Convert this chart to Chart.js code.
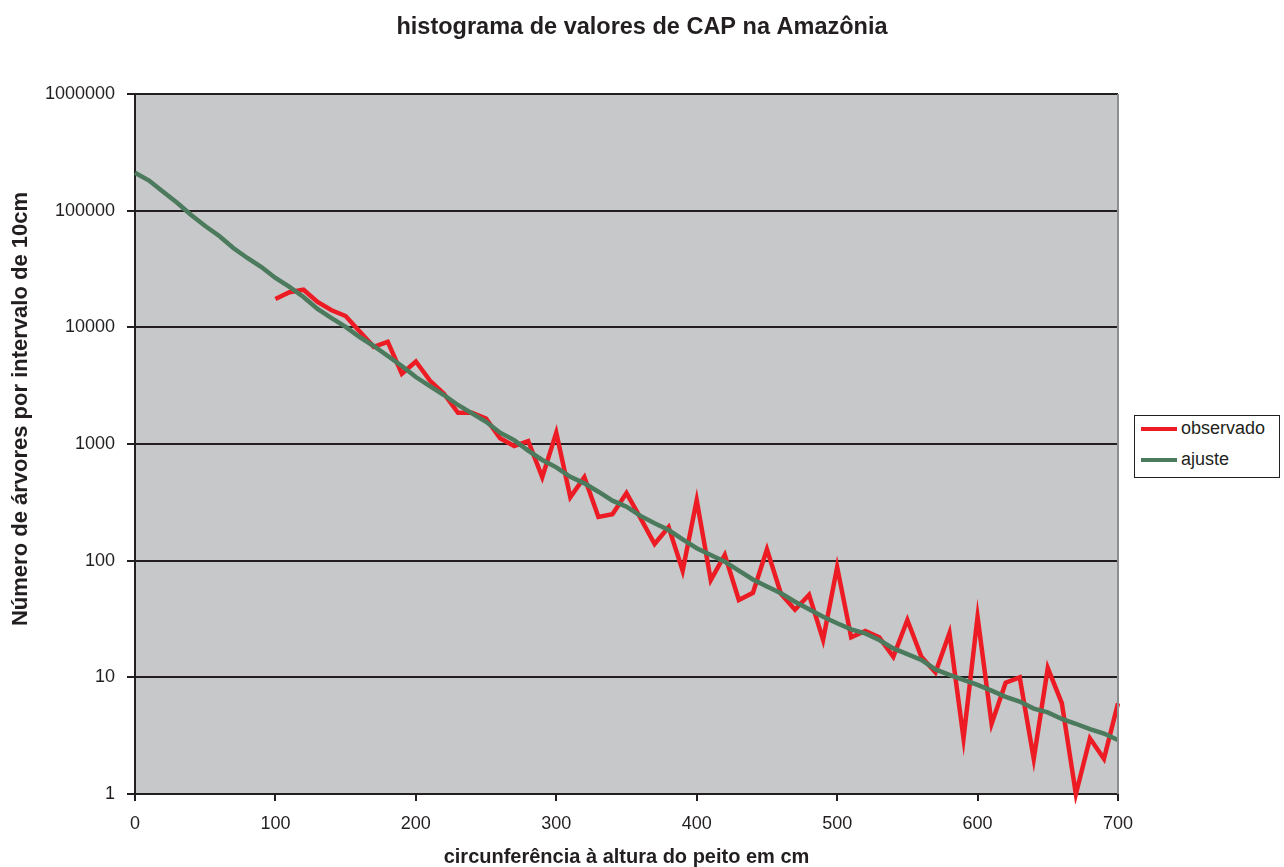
<!DOCTYPE html>
<html>
<head>
<meta charset="utf-8">
<title>histograma de valores de CAP na Amazônia</title>
<script src="https://cdn.jsdelivr.net/npm/chart.js@4/dist/chart.umd.min.js"></script>
<style>
  body { margin: 0; background: #fff; }
  #wrap { position: relative; width: 1284px; height: 867px; }
  #legend {
    position: absolute; left: 1134px; top: 415px; width: 144px; height: 61px;
    border: 1px solid #231f20; background: #fff;
    font: 18px "Liberation Sans", Arial, sans-serif; color: #231f20;
  }
  .item { position: absolute; left: 6px; height: 22px; line-height: 22px; }
  .item i { display: inline-block; width: 36px; height: 4px; vertical-align: middle; margin-right: 4px; }
</style>
</head>
<body>
<div id="wrap">
  <canvas id="chart" width="1284" height="867"></canvas>
  <div id="legend"></div>
</div>
<script>
// circunferência (cm), classes de 10 cm
const cap = [0, 10, 20, 30, 40, 50, 60, 70, 80, 90,
  100, 110, 120, 130, 140, 150, 160, 170, 180, 190,
  200, 210, 220, 230, 240, 250, 260, 270, 280, 290,
  300, 310, 320, 330, 340, 350, 360, 370, 380, 390,
  400, 410, 420, 430, 440, 450, 460, 470, 480, 490,
  500, 510, 520, 530, 540, 550, 560, 570, 580, 590,
  600, 610, 620, 630, 640, 650, 660, 670, 680, 690, 700];

const observado = [null, null, null, null, null, null, null, null, null, null,
  17500, 20000, 21000, 16500, 14000, 12500, 9200, 6800, 7500, 4000,
  5100, 3500, 2700, 1850, 1850, 1650, 1120, 960, 1060, 520,
  1250, 350, 520, 237, 250, 380, 232, 139, 194, 82,
  330, 68, 112, 46, 53, 125, 52, 38, 51, 21,
  88, 22, 25, 22, 15, 31, 15, 11, 24, 3,
  33, 4, 9, 10, 2, 12, 6, 1, 3, 2, 6];

const ajuste = [211000, 181000, 145000, 117000, 91800, 73800, 60700, 47900, 39300, 32900,
  26500, 22200, 18200, 14400, 12000, 10100, 8260, 6920, 5680, 4660,
  3750, 3140, 2630, 2160, 1830, 1550, 1250, 1080, 877, 730,
  631, 524, 460, 390, 327, 290, 242, 209, 183, 152,
  128, 112, 98, 82, 69, 60, 52.5, 44.5, 38.3, 33.1,
  29.1, 25.8, 23.8, 20.9, 17.7, 15.8, 14.1, 11.7, 10.5, 9.5,
  8.6, 7.7, 6.8, 6.2, 5.4, 5.0, 4.4, 4.0, 3.6, 3.3, 2.9];

const yTicks = [1, 10, 100, 1000, 10000, 100000, 1000000];
const xTicks = [0, 100, 200, 300, 400, 500, 600, 700];

const seriesNames = ["observado", "ajuste"];
const seriesColors = ["#ed1c24", "#4b7a5d"];

const FONT = '"Liberation Sans", Arial, sans-serif';
const INK = "#231f20";

const plotBg = {
  id: "plotBg",
  beforeDraw(chart) {
    const a = chart.chartArea, ctx = chart.ctx;
    ctx.save();
    ctx.fillStyle = "#c7c8ca";
    ctx.fillRect(a.left, a.top, a.right - a.left, a.bottom - a.top);
    ctx.restore();
  },
  afterDraw(chart) {
    const a = chart.chartArea, ctx = chart.ctx;
    ctx.save();
    // borda direita cinza
    ctx.strokeStyle = "#8d8e90";
    ctx.lineWidth = 2;
    ctx.beginPath();
    ctx.moveTo(a.right, a.top);
    ctx.lineTo(a.right, a.bottom);
    ctx.stroke();
    ctx.fillStyle = INK;
    ctx.textAlign = "center";
    ctx.textBaseline = "middle";
    // título do gráfico, centrado na figura inteira
    ctx.font = "bold 23.5px " + FONT;
    ctx.fillText("histograma de valores de CAP na Amazônia", chart.width / 2, 28);
    // título do eixo y
    ctx.font = "bold 22px " + FONT;
    ctx.translate(21, 409);
    ctx.rotate(-Math.PI / 2);
    ctx.fillText("Número de árvores por intervalo de 10cm", 0, 0);
    ctx.restore();
  }
};

new Chart(document.getElementById("chart"), {
  type: "line",
  data: {
    datasets: [
      {
        label: seriesNames[0],
        data: cap.map((c, i) => ({ x: c, y: observado[i] })),
        borderColor: seriesColors[0],
        borderWidth: 4.5,
        pointRadius: 0,
        tension: 0,
        clip: 10,
        order: 1
      },
      {
        label: seriesNames[1],
        data: cap.map((c, i) => ({ x: c, y: ajuste[i] })),
        borderColor: seriesColors[1],
        borderWidth: 4.5,
        pointRadius: 0,
        tension: 0,
        clip: 10,
        order: 0
      }
    ]
  },
  options: {
    responsive: false,
    animation: false,
    devicePixelRatio: 1,
    layout: { padding: { left: 0, right: 166, top: 94, bottom: 0 } },
    plugins: {
      legend: { display: false },
      tooltip: { enabled: false },
      title: { display: false }
    },
    scales: {
      x: {
        type: "linear",
        min: 0,
        max: 700,
        afterBuildTicks: (s) => { s.ticks = xTicks.map(v => ({ value: v })); },
        afterFit: (s) => { s.height = 73; },
        ticks: {
          color: INK,
          padding: 12,
          maxRotation: 0,
          font: { family: FONT, size: 18 },
          callback: (v) => String(v)
        },
        grid: {
          drawOnChartArea: false,
          drawTicks: true,
          tickLength: 7,
          color: INK,
          lineWidth: 2
        },
        border: { color: INK, width: 2 },
        title: {
          display: true,
          text: "circunferência à altura do peito em cm",
          color: INK,
          font: { family: FONT, size: 20, weight: "bold", lineHeight: 1 },
          padding: { top: 0, bottom: 0 }
        }
      },
      y: {
        type: "logarithmic",
        min: 1,
        max: 1000000,
        afterBuildTicks: (s) => { s.ticks = yTicks.map(v => ({ value: v })); },
        afterFit: (s) => { s.width = 135; },
        ticks: {
          color: INK,
          padding: 12,
          font: { family: FONT, size: 18 },
          callback: (v) => String(v)
        },
        grid: {
          color: INK,
          lineWidth: 2,
          tickLength: 8
        },
        border: { color: INK, width: 2 }
      }
    }
  },
  plugins: [plotBg]
});

// legenda
const legend = document.getElementById("legend");
seriesNames.forEach((name, i) => {
  const row = document.createElement("div");
  row.className = "item";
  row.style.top = (i === 0 ? 1 : 32) + "px";
  row.innerHTML = '<i style="background:' + seriesColors[i] + '"></i>' + name;
  legend.appendChild(row);
});
</script>
</body>
</html>
